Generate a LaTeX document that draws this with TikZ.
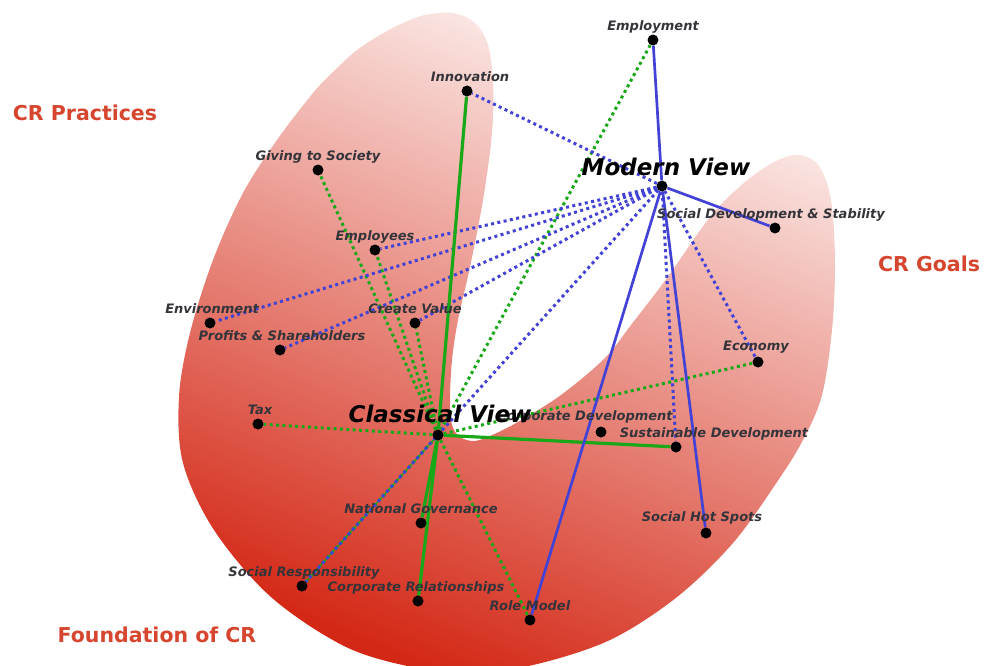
\documentclass[tikz,border=0pt]{standalone}
\usepackage{fontspec}
\setmainfont{DejaVu Sans}
\pgfdeclarelayer{back}
\pgfdeclarelayer{bg}
\pgfsetlayers{back,bg,main}
\definecolor{crred}{RGB}{214,70,46}
\definecolor{vblue}{RGB}{66,66,214}
\definecolor{vgreen}{RGB}{24,168,24}
\definecolor{lblgray}{RGB}{52,52,58}
\definecolor{shdark}{RGB}{212,40,22}
\definecolor{shmid}{RGB}{234,128,110}
\definecolor{shlight}{RGB}{253,242,240}
\tikzset{
    dot/.style={circle, fill=black, inner sep=0pt, minimum size=11pt},
    lbl/.style={font=\fontsize{13}{13}\selectfont\bfseries\itshape,
        text=lblgray, inner sep=0pt, text height=0.75em, text depth=0.25em},
    view/.style={font=\fontsize{23}{23}\selectfont\bfseries\itshape,
        text=black, inner sep=0pt, text height=0.75em, text depth=0.25em},
    area/.style={font=\fontsize{20.5}{20.5}\selectfont\bfseries,
        text=crred, inner sep=0pt},
    bsol/.style={vblue, line width=2.7pt},
    gsol/.style={vgreen, line width=3.2pt},
    bdot/.style={vblue, line width=3pt, dash pattern=on 3pt off 3.4pt},
    gdot/.style={vgreen, line width=3pt, dash pattern=on 3pt off 3.4pt}
}

\begin{document}
\begin{tikzpicture}[x=1pt, y=-1pt, label distance=1pt]
  \useasboundingbox (0,0) rectangle (993,666);

  \node (mv) [dot, label={[view,xshift=4pt,yshift=1pt]above:Modern View}] at (662,186) {};

  \node (emp) [dot, label={[lbl]above:Employment}] at (653,40) {};
  \node (inn) [dot, label={[lbl,xshift=3pt]above:Innovation}] at (467,91) {};
  \node (gts) [dot, label={[lbl]above:Giving to Society}] at (318,170) {};
  \node (ees) [dot, label={[lbl]above:Employees}] at (375,250) {};
  \node (env) [dot, label={[lbl,xshift=2pt]above:Environment}] at (210,323) {};
  \node (cva) [dot, label={[lbl]above:Create Value}] at (415,323) {};
  \node (pro) [dot, label={[lbl,xshift=2pt]above:Profits \& Shareholders}] at (280,350) {};
  \node (tax) [dot, label={[lbl,xshift=2pt]above:Tax}] at (258,424) {};
  \node (cdv) [dot, label={[lbl,xshift=-16pt,yshift=2pt]above:Corporate Development}] at (601,432) {};
  \node (cv) [dot, label={[view,xshift=2pt,yshift=3pt]above:Classical View}] at (438,435) {};
  \node (sus) [dot, label={[lbl,xshift=38pt]above:Sustainable Development}] at (676,447) {};
  \node (eco) [dot, label={[lbl,xshift=-2pt,yshift=2pt]above:Economy}] at (758,362) {};
  \node (sds) [dot, label={[lbl,xshift=-4pt]above:Social Development \& Stability}] at (775,228) {};
  \node (shs) [dot, label={[lbl,xshift=-4pt,yshift=2pt]above:Social Hot Spots}] at (706,533) {};
  \node (ngv) [dot, label={[lbl]above:National Governance}] at (421,523) {};
  \node (sre) [dot, label={[lbl,xshift=2pt]above:Social Responsibility}] at (302,586) {};
  \node (cre) [dot, label={[lbl,xshift=-2pt]above:Corporate Relationships}] at (418,601) {};
  \node (rmo) [dot, label={[lbl]above:Role Model}] at (530,620) {};

  \node (prac) [area] at (85,113) {CR Practices};
  \node (goal) [area] at (929,264) {CR Goals};
  \node (found) [area] at (157,635) {Foundation of CR};

  \begin{pgfonlayer}{back}
    \shade[bottom color=shdark, middle color=shmid, top color=shlight, shading angle=-22]
      plot[smooth cycle, tension=0.55] coordinates {
        (453,13) (425,15) (403,23) (380,35) (357,50) (335,70) (313,93)
        (277,140) (243,193) (213,260) (190,333) (179,397) (183,463)
        (214,530) (271,597) (346,647) (417,668) (470,672) (533,665)
        (610,640) (677,597) (733,543) (777,482) (803,440) (822,395)
        (832,330) (835,263) (831,200) (819,166) (800,155) (776,161)
        (745,182) (710,217) (667,278) (631,325) (605,358) (561,395)
        (518,422) (490,436) (474,441) (460,437) (452,425) (450,400)
        (452,360) (458,320) (470,267) (483,200) (492,133) (493,83)
        (488,45) (475,23)};
  \end{pgfonlayer}

  \begin{pgfonlayer}{bg}
    \draw[gdot] (cv) -- (gts); \draw[gdot] (cv) -- (ees);
    \draw[gdot] (cv) -- (cva); \draw[gdot] (cv) -- (emp);
    \draw[gdot] (cv) -- (tax); \draw[gdot] (cv) -- (eco);
    \draw[gdot] (cv) -- (rmo);
    \draw[gsol, line width=1.2pt] (cv) -- (sre);
    \draw[gdot, dash phase=3pt] (cv) -- (sre);

    \draw[bdot] (mv) -- (inn); \draw[bdot] (mv) -- (ees);
    \draw[bdot] (mv) -- (env); \draw[bdot] (mv) -- (pro);
    \draw[bdot] (mv) -- (cva); \draw[bdot] (mv) -- (sre);
    \draw[bdot] (mv) -- (eco); \draw[bdot] (mv) -- (sus);

    \draw[gsol] (cv) -- (inn); \draw[gsol] (cv) -- (sus);
    \draw[gsol] (cv) -- (ngv); \draw[gsol] (cv) -- (cre);

    \draw[bsol] (mv) -- (emp); \draw[bsol] (mv) -- (sds);
    \draw[bsol] (mv) -- (rmo); \draw[bsol] (mv) -- (shs);
  \end{pgfonlayer}

\end{tikzpicture}
\end{document}
